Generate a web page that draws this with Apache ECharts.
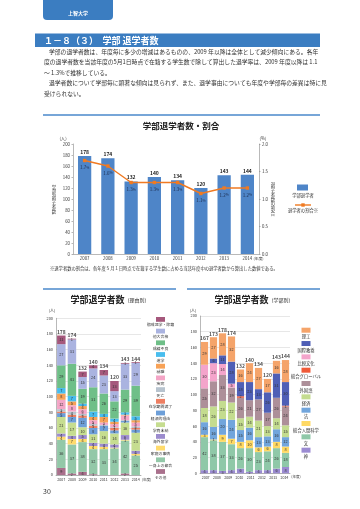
<!DOCTYPE html>
<html><head><meta charset="utf-8">
<script src="https://cdn.jsdelivr.net/npm/echarts@6/dist/echarts.min.js"></script>
<style>html,body{margin:0;padding:0;background:#fff}#c{width:360px;height:509px}</style>
</head><body><div id="c"></div>
<script>
const FONT = '"Noto Sans CJK JP","Noto Sans",sans-serif';

// ---- Chart 1: 学部退学者数・割合 ----
const years = ['2007','2008','2009','2010','2011','2012','2013','2014'];
const withdrawals = [178, 174, 132, 140, 134, 120, 143, 144];
const withdrawalRate = [1.7, 1.6, 1.3, 1.3, 1.3, 1.1, 1.2, 1.2];

// ---- Chart 2: 理由別 (years 2007-2014) ----
const rChokai   = [11, 1, 7, 4, 7, 13, 1, 1];     // top segment
const rTadai    = [27, 31, 15, 24, 23, 13, 33, 29];
const rSeiseki  = [29, 41, 19, 31, 26, 22, 29, 39];
const rShingaku = [7, 7, 3, 7, 4, 4, 3, 5];
const rShushoku = [8, 5, 4, 4, 7, 3, 1, 3];
const rShippei  = [12, 8, 6, 5, 3, 4, 6, 5];
const rShibo    = [3, 4, 2, 2, 1, 1, 1, 2];
const rManryo   = [2, 3, 3, 3, 0, 3, 0, 2];
const rKeizai   = [5, 7, 12, 8, 7, 4, 2, 4];
const rMino     = [21, 17, 10, 11, 16, 14, 16, 23];
const rRyugaku  = [4, 4, 5, 4, 4, 4, 6, 4];
const rKatei    = [4, 7, 4, 4, 3, 1, 1, 2];
const rIsshin   = [36, 37, 38, 32, 33, 34, 42, 25];
const rSonota   = [9, 2, 4, 1, 0, 0, 2, 0];
const reasonNames = ['懲戒退学・除籍','他大合格','成績不良','進学','就職','疾病','死亡','在学期間満了','経済的理由','学費未納','海外留学','家庭の事情','一身上の都合','その他'];
const reasonValues = [rChokai, rTadai, rSeiseki, rShingaku, rShushoku, rShippei, rShibo, rManryo, rKeizai, rMino, rRyugaku, rKatei, rIsshin, rSonota];
const reasonColors = ['#a5587c','#aab3e0','#6fbf88','#48bdee','#f7a257','#f4a5c6','#b7c3ce','#ee7f62','#6d9fd9','#c6dd90','#9c8cce','#ffdb6c','#93c8a8','#a9708c'];

// ---- Chart 3: 学部別 ----
const facultyBars = ['2005','2006','2007','2008','2009','2010','2011','2012','2013','2014'];
const facultyTickLabels = ['2007','2008','2009','2010','2011','2012','2013','2014'];
const fRiko    = [29, 27, 28, 32, 16, 24, 27, 17, 16, 28];
const fKokusai = [0, 6, 11, 28, 18, 23, 13, 26, 31, 30];
const fHikaku  = [30, 23, 14, 5, 0, 0, 0, 0, 0, 0];
const fGlobal  = [0, 0, 0, 0, 2, 0, 0, 0, 0, 1];
const fGaikoku = [25, 32, 33, 19, 26, 21, 27, 17, 26, 24];
const fKeizai  = [18, 26, 23, 22, 15, 14, 21, 13, 14, 15];
const fHo      = [16, 16, 20, 24, 15, 16, 13, 13, 16, 12];
const fNingen  = [3, 1, 9, 7, 8, 10, 6, 6, 8, 8];
const fBun     = [42, 38, 37, 33, 26, 30, 23, 24, 26, 18];
const fKami    = [4, 4, 3, 4, 6, 2, 4, 4, 6, 8];
const facultyNames = ['理工','国際教養','比較文化','総合グローバル','外国語','経済','法','総合人間科学','文','神'];
const facultyValues = [fRiko, fKokusai, fHikaku, fGlobal, fGaikoku, fKeizai, fHo, fNingen, fBun, fKami];
const facultyColors = ['#f5a46a','#4f5fb6','#f4a4cb','#ef5a38','#ad8f99','#c4dc8f','#71a5dc','#ffd964','#8fc8a8','#9b8bd2'];

const paragraph = [
  '学部の退学者数は、年度毎に多少の増減はあるものの、2009 年以降は全体として減少傾向にある。各年',
  '度の退学者数を当該年度の5月1日時点で在籍する学生数で除して算出した退学率は、2009 年度以降は 1.1',
  '～ 1.3%で推移している。',
  '退学者数について学部毎に顕著な傾向は見られず、また、退学事由についても年度や学部毎の差異は特に見',
  '受けられない。'
];

function sumCols(arrs, n){ const s=[]; for(let i=0;i<n;i++){ let t=0; arrs.forEach(a=>t+=a[i]); s.push(t);} return s; }
const reasonTotals = sumCols(reasonValues, years.length);
const facultyTotals = sumCols(facultyValues, facultyBars.length);

const HEAD = '#3b7dc1';
const LINEBLUE = '#4a89cb';
const g = [];
function txt(x, y, text, size, opt){ opt = opt||{};
  g.push({type:'text', x:x, y:y, z:10, style:{text:text, fill:opt.color||'#333', font:(opt.bold?'bold ':'')+size+'px '+FONT,
    align:opt.align||'left', verticalAlign:'middle', textAlign:opt.align||'left', textVerticalAlign:'middle', lineHeight:opt.lh}}); }

// header
g.push({type:'rect', shape:{x:43,y:-5,width:70,height:25,r:4}, style:{fill:HEAD}});
txt(78, 13, '上智大学', 5, {color:'#fff', align:'center', bold:true});
g.push({type:'rect', shape:{x:35,y:33.5,width:285,height:13.5}, style:{fill:HEAD}});
txt(44, 40.5, '１－８（３）　学部 退学者数', 9, {color:'#fff', bold:true});
const pY = [51.5, 62, 72.5, 83, 93.5];
const pX = [49, 44, 44, 49, 44];
paragraph.forEach((l,i)=>txt(pX[i], pY[i], l, 5.8, {color:'#333'}));

// chart 1 decorations
g.push({type:'line', shape:{x1:43,y1:115,x2:320,y2:115}, style:{stroke:LINEBLUE, lineWidth:1.6}});
txt(181, 126, '学部退学者数・割合', 8.5, {align:'center', bold:true, color:'#222'});
txt(63, 138.5, '(人)', 4.3, {align:'center'});
txt(263, 138.5, '(%)', 4.3, {align:'center'});
txt(54, 199, '学部退学者数'.split('').join('\n'), 4.3, {align:'center', lh:4.8});
txt(273, 199, '退学者数の割合'.split('').join('\n'), 4.3, {align:'center', lh:4.8});
txt(258.5, 258.5, '(年度)', 3.8, {align:'center'});
g.push({type:'rect', shape:{x:297,y:184.5,width:11,height:6}, style:{fill:'#4e85c8'}});
txt(303, 195, '学部退学者', 4.3, {align:'center'});
g.push({type:'line', shape:{x1:295,y1:205,x2:311,y2:205}, style:{stroke:'#f07a22', lineWidth:1.4}});
g.push({type:'rect', shape:{x:301.3,y:203.3,width:3.4,height:3.4}, style:{fill:'#f07a22'}});
txt(303, 210, '退学者の割合※', 4.3, {align:'center'});
txt(50, 268, '※退学者数の割合は、各年度５月１日時点で在籍する学生数に占める当該年度中の退学者数から算出した数値である。', 4.3, {color:'#333'});

// chart 2 decorations
g.push({type:'line', shape:{x1:43,y1:289,x2:176,y2:289}, style:{stroke:LINEBLUE, lineWidth:1.6}});
g.push({type:'text', x:110, y:300, style:{text:'{a|学部退学者数}{b|（理由別）}', align:'center', verticalAlign:'middle', textAlign:'center', textVerticalAlign:'middle',
  rich:{a:{font:'bold 9px '+FONT, fill:'#222'}, b:{font:'5px '+FONT, fill:'#222'}}}});
txt(52, 310.7, '(人)', 4, {align:'center'});
txt(146.5, 479.5, '(年度)', 3.6, {align:'center'});
reasonNames.forEach((n,i)=>{
  const ty = 325 + 11.7*i;
  g.push({type:'rect', shape:{x:156,y:ty-8,width:9,height:4.8}, style:{fill:reasonColors[i]}});
  txt(160.5, ty, n, 3.9, {align:'center'});
});
txt(47, 491, '30', 7, {align:'center', color:'#333'});

// chart 3 decorations
g.push({type:'line', shape:{x1:187,y1:289,x2:320,y2:289}, style:{stroke:LINEBLUE, lineWidth:1.6}});
g.push({type:'text', x:254, y:300, style:{text:'{a|学部退学者数}{b|（学部別）}', align:'center', verticalAlign:'middle', textAlign:'center', textVerticalAlign:'middle',
  rich:{a:{font:'bold 9px '+FONT, fill:'#222'}, b:{font:'5px '+FONT, fill:'#222'}}}});
txt(193, 310, '(人)', 4, {align:'center'});
txt(296, 477, '(年度)', 3.6, {align:'center'});
facultyNames.forEach((n,i)=>{
  const ty = 336.7 + 13.33*i;
  g.push({type:'rect', shape:{x:301.5,y:ty-9,width:9,height:5}, style:{fill:facultyColors[i]}});
  txt(306, ty, n, 4.3, {align:'center'});
});

const axisTxt = {fontSize:4.3, color:'#333', fontFamily:FONT};
const segLabel = {show:true, position:'inside', fontSize:3.9, color:'#333', fontFamily:FONT, formatter:p=>p.value>0?p.value:''};
const series = [];
series.push({type:'bar', xAxisIndex:0, yAxisIndex:0, data:withdrawals, barWidth:'57%', itemStyle:{color:'#4e85c8'},
  label:{show:true, position:'top', distance:1.5, fontSize:5, fontWeight:'bold', color:'#222', fontFamily:FONT}});
series.push({type:'line', xAxisIndex:0, yAxisIndex:1, data:withdrawalRate, symbol:'rect', symbolSize:3.4,
  lineStyle:{color:'#f07a22', width:1.4}, itemStyle:{color:'#f07a22'},
  label:{show:true, position:'bottom', distance:3, formatter:p=>'{a|'+p.value.toFixed(1)+'}{b|%}',
    rich:{a:{fontSize:4.5, color:'#1d2d4f', fontFamily:FONT}, b:{fontSize:3.3, color:'#1d2d4f', fontFamily:FONT}}}});
for(let i=reasonValues.length-1;i>=0;i--){
  series.push({type:'bar', name:reasonNames[i], xAxisIndex:1, yAxisIndex:2, stack:'reason', data:reasonValues[i], barWidth:'80%',
    itemStyle:{color:reasonColors[i]}, label:segLabel});
}
series.push({type:'scatter', xAxisIndex:1, yAxisIndex:2, data:reasonTotals, symbolSize:0.1, itemStyle:{color:'rgba(0,0,0,0)'},
  label:{show:true, position:'top', distance:1, fontSize:5, fontWeight:'bold', color:'#222', fontFamily:FONT}});
for(let i=facultyValues.length-1;i>=0;i--){
  series.push({type:'bar', name:facultyNames[i], xAxisIndex:2, yAxisIndex:3, stack:'faculty', data:facultyValues[i], barWidth:'80%',
    itemStyle:{color:facultyColors[i]}, label:segLabel});
}
series.push({type:'scatter', xAxisIndex:2, yAxisIndex:3, data:facultyTotals, symbolSize:0.1, itemStyle:{color:'rgba(0,0,0,0)'},
  label:{show:true, position:'top', distance:1, fontSize:5, fontWeight:'bold', color:'#222', fontFamily:FONT}});

const axLine = {show:true, lineStyle:{color:'#8a8a8a', width:0.6}};
const option = {
  animation:false,
  textStyle:{fontFamily:FONT},
  grid:[
    {left:73, top:144, width:186, height:110},
    {left:56, top:318.3, width:85, height:156.7},
    {left:200, top:316, width:90, height:157.3}
  ],
  xAxis:[
    {gridIndex:0, type:'category', data:years, axisLine:axLine, axisTick:{show:false}, axisLabel:Object.assign({margin:2.5, interval:0}, axisTxt)},
    {gridIndex:1, type:'category', data:years, axisLine:axLine, axisTick:{show:false}, axisLabel:Object.assign({margin:2.5, interval:0}, axisTxt, {fontSize:3.6})},
    {gridIndex:2, type:'category', data:facultyBars, axisLine:axLine, axisTick:{show:false}, axisLabel:{show:false}},
    {gridIndex:2, type:'category', data:facultyTickLabels, position:'bottom', axisLine:{show:false}, axisTick:{show:false}, axisLabel:Object.assign({margin:2.5, interval:0}, axisTxt, {fontSize:3.6})}
  ],
  yAxis:[
    {gridIndex:0, type:'value', min:0, max:200, interval:20, axisLine:axLine, axisTick:{show:true, length:1.5, lineStyle:{color:'#8a8a8a', width:0.6}}, splitLine:{show:false}, axisLabel:Object.assign({margin:3}, axisTxt)},
    {gridIndex:0, type:'value', position:'right', min:0, max:2, interval:0.5, axisLine:axLine, axisTick:{show:true, length:1.5, lineStyle:{color:'#8a8a8a', width:0.6}}, splitLine:{show:false}, axisLabel:Object.assign({margin:3, formatter:v=>v.toFixed(1)}, axisTxt)},
    {gridIndex:1, type:'value', min:0, max:200, interval:20, axisLine:axLine, axisTick:{show:false}, splitLine:{show:true, lineStyle:{color:'#cfcfcf', width:0.5}}, axisLabel:Object.assign({margin:3}, axisTxt, {fontSize:3.9})},
    {gridIndex:2, type:'value', min:0, max:200, interval:20, axisLine:axLine, axisTick:{show:false}, splitLine:{show:true, lineStyle:{color:'#cfcfcf', width:0.5}}, axisLabel:Object.assign({margin:3}, axisTxt, {fontSize:3.9})}
  ],
  series:series,
  graphic:g
};
const chart = echarts.init(document.getElementById('c'), null, {renderer:'canvas', width:360, height:509});
chart.setOption(option);
</script>
</body></html>
